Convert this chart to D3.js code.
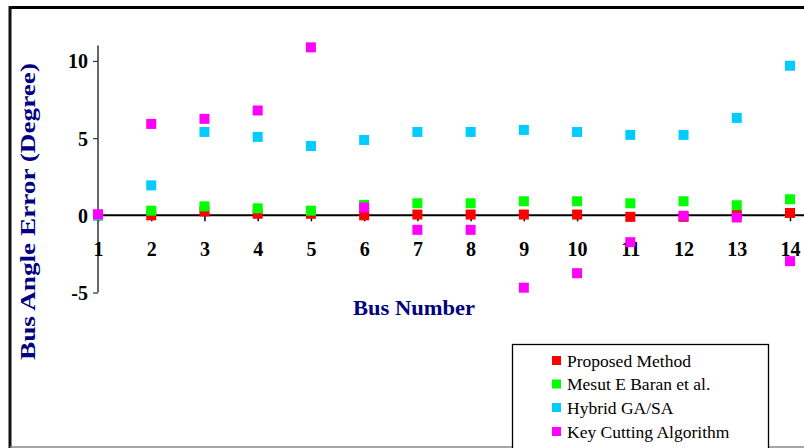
<!DOCTYPE html>
<html>
<head>
<meta charset="utf-8">
<script src="https://cdn.jsdelivr.net/npm/d3@7"></script>
<style>
  html, body { margin: 0; padding: 0; background: #fff; }
  svg { display: block; }
</style>
</head>
<body>
<svg id="chart" width="804" height="448"></svg>
<script>
// ---- data ----
const buses = [1, 2, 3, 4, 5, 6, 7, 8, 9, 10, 11, 12, 13, 14];
const proposed = [0.0, 0.0, 0.25, 0.1, 0.1, 0.0, 0.05, 0.05, 0.05, 0.05, -0.1, -0.1, 0.05, 0.15];
const baran    = [0.0, 0.3, 0.58, 0.45, 0.3, 0.68, 0.78, 0.78, 0.91, 0.91, 0.78, 0.91, 0.65, 1.04];
const hybrid   = [0.0, 1.94, 5.4, 5.08, 4.49, 4.88, 5.4, 5.4, 5.53, 5.4, 5.21, 5.21, 6.31, 9.69];
const keyCut   = [0.07, 5.92, 6.25, 6.79, 10.88, 0.51, -0.94, -0.94, -4.69, -3.75, -1.74, -0.03, -0.14, -2.97];
const seriesNames = ["Proposed Method", "Mesut E Baran et al.", "Hybrid GA/SA", "Key Cutting Algorithm"];
const seriesColors = ["#ff0000", "#00ff00", "#00ccff", "#ff00ff"];
const yTicks = [-5, 0, 5, 10];
const yTitle = "Bus Angle Error (Degree)";
const xTitle = "Bus Number";

const seriesData = [proposed, baran, hybrid, keyCut];

const svg = d3.select("#chart");
const serif = "'Liberation Serif', 'DejaVu Serif', serif";

// outer frame
svg.append("line").attr("x1", 10).attr("x2", 804).attr("y1", 7.5).attr("y2", 7.5)
  .attr("stroke", "#000").attr("stroke-width", 3);
svg.append("line").attr("x1", 10).attr("x2", 10).attr("y1", 6).attr("y2", 448)
  .attr("stroke", "#111").attr("stroke-width", 3);
svg.append("line").attr("x1", 10).attr("x2", 804).attr("y1", 447).attr("y2", 447)
  .attr("stroke", "#888").attr("stroke-width", 1.5);

// scales
const x = d3.scalePoint().domain(buses).range([98, 790]);
const y = d3.scaleLinear().domain([-5, 11]).range([292.5, 45.5]);

// y axis
const yAxis = svg.append("g").attr("transform", "translate(98,0)")
  .call(d3.axisLeft(y).tickValues(yTicks).tickSize(5).tickPadding(5).tickFormat(d => String(d)));
yAxis.select(".domain").attr("stroke", "#404040").attr("stroke-width", 1.6)
  .attr("d", `M0,${y(11)}V${y(-5)}`);
yAxis.selectAll(".tick line").attr("stroke", "#404040").attr("stroke-width", 1.3);
yAxis.selectAll(".tick text").attr("font-family", serif).attr("font-weight", "bold")
  .attr("font-size", 20).attr("fill", "#000").attr("dy", "0.35em");

// x axis at y = 0
const xAxis = svg.append("g").attr("transform", `translate(0,${y(0)})`)
  .call(d3.axisBottom(x).tickSize(6).tickPadding(20));
xAxis.select(".domain").attr("stroke", "#000").attr("stroke-width", 2)
  .attr("d", `M98,0H804`);
xAxis.selectAll(".tick line").attr("stroke", "#000").attr("stroke-width", 1.5);
xAxis.selectAll(".tick text").attr("font-family", serif).attr("font-weight", "bold")
  .attr("font-size", 20).attr("fill", "#000");

// markers
const mw = 10, mh = 10;
seriesData.forEach((vals, si) => {
  svg.append("g").selectAll("rect").data(vals).enter().append("rect")
    .attr("x", (d, i) => x(buses[i]) - mw / 2)
    .attr("y", d => y(d) - mh / 2)
    .attr("width", mw).attr("height", mh)
    .attr("fill", seriesColors[si]);
});

// axis titles
svg.append("text")
  .attr("transform", `translate(35,${(63 + 360) / 2}) rotate(-90)`)
  .attr("text-anchor", "middle")
  .attr("font-family", serif).attr("font-weight", "bold").attr("font-size", 20)
  .attr("fill", "#000080")
  .attr("textLength", 297).attr("lengthAdjust", "spacingAndGlyphs")
  .text(yTitle);

svg.append("text")
  .attr("x", 414).attr("y", 315)
  .attr("text-anchor", "middle")
  .attr("font-family", serif).attr("font-weight", "bold").attr("font-size", 21)
  .attr("fill", "#000080")
  .attr("textLength", 122).attr("lengthAdjust", "spacingAndGlyphs")
  .text(xTitle);

// legend
const lg = svg.append("g");
lg.append("rect").attr("x", 512.5).attr("y", 344.5).attr("width", 256).attr("height", 110)
  .attr("fill", "#fff").attr("stroke", "#000").attr("stroke-width", 1.3);
const rowY = [360.5, 384, 407.5, 431.5];
seriesNames.forEach((name, i) => {
  lg.append("rect").attr("x", 552).attr("y", rowY[i] - 4.5).attr("width", 9).attr("height", 9)
    .attr("fill", seriesColors[i]);
  lg.append("text").attr("x", 567).attr("y", rowY[i] + 6)
    .attr("font-family", serif).attr("font-size", 17.5).attr("fill", "#000")
    .text(name);
});
</script>
</body>
</html>
